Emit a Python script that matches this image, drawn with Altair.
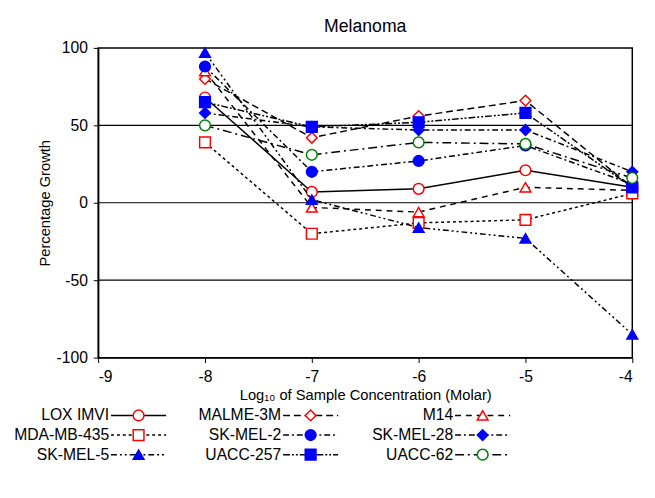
import altair as alt
import pandas as pd

conc = [-8, -7, -6, -5, -4]
names = ["LOX IMVI", "MALME-3M", "M14", "MDA-MB-435", "SK-MEL-2",
         "SK-MEL-28", "SK-MEL-5", "UACC-257", "UACC-62"]
growth = {
    "LOX IMVI": [68, 7, 9, 21, 10],
    "MALME-3M": [80, 42, 56, 66, 10],
    "M14": [85, -3, -6, 10, 8],
    "MDA-MB-435": [39, -20, -13, -11, 6],
    "SK-MEL-2": [88, 20, 27, 37, 12],
    "SK-MEL-28": [58, 49, 47, 47, 20],
    "SK-MEL-5": [97, 2, -16, -23, -85],
    "UACC-257": [65, 49, 52, 58, 10],
    "UACC-62": [50, 31, 39, 38, 16],
}
gridlines = [50, 0, -50]

shapes = ["circle", "diamond", "triangle-up", "square", "circle",
          "diamond", "triangle-up", "square", "circle"]
strokes = ["red", "red", "red", "red", "blue", "blue", "blue", "blue", "green"]
fills = ["white", "white", "white", "white", "blue", "blue", "blue", "blue", "white"]
dashes = [[1, 0], [7, 4], [6, 5], [3, 3], [6, 3, 2, 3], [6, 3, 2, 3],
          [6, 3, 2, 3, 2, 3], [7, 2, 2, 2, 2, 2], [9, 4, 2, 4]]

font = "Liberation Sans"
fix_minus = "replace(datum.label, '\u2212', '-')"

x = alt.X("conc:Q").scale(domain=[-9, -4]).axis(
    values=[-9, -8, -7, -6, -5, -4], title="Log₁₀ of Sample Concentration (Molar)",
    grid=False, tickSize=5, labelExpr=fix_minus, labelPadding=6)
y = alt.Y("growth:Q").scale(domain=[-100, 100]).axis(
    values=[-100, -50, 0, 50, 100], title="Percentage Growth", grid=False,
    tickSize=5, labelExpr=fix_minus, labelPadding=6)

grid = alt.Chart(pd.DataFrame({"growth": gridlines})).mark_rule(
    color="black", strokeWidth=1.2).encode(y=y)

lx = alt.Scale(domain=[-0.075, 3.03], nice=False, zero=False)
ly = alt.Scale(domain=[-0.25, 2.25], reverse=True, nice=False, zero=False)

layers = [grid]
leg_layers = []
for i, n in enumerate(names):
    d = pd.DataFrame({"conc": conc, "growth": growth[n]})
    dash = {} if i == 0 else {"strokeDash": dashes[i]}
    layers.append(alt.Chart(d).mark_line(color="black", strokeWidth=1.5, **dash)
                  .encode(x=x, y=y))
    layers.append(alt.Chart(d).mark_point(
        shape=shapes[i], stroke=strokes[i], fill=fills[i], filled=True,
        size=120, strokeWidth=1.5, opacity=1).encode(x=x, y=y))

    col, row = i % 3, i // 3
    ld = pd.DataFrame({"name": [n], "col": [col], "row": [row],
                       "x2": [col + 0.32], "xm": [col + 0.16]})
    lb = alt.Chart(ld)
    leg_layers.append(lb.mark_rule(color="black", strokeWidth=1.5, **dash).encode(
        x=alt.X("col:Q").scale(lx).axis(None), x2="x2:Q",
        y=alt.Y("row:Q").scale(ly).axis(None)))
    leg_layers.append(lb.mark_point(
        shape=shapes[i], stroke=strokes[i], fill=fills[i], filled=True,
        size=120, strokeWidth=1.5, opacity=1).encode(
        x=alt.X("xm:Q").scale(lx).axis(None), y=alt.Y("row:Q").scale(ly).axis(None)))
    leg_layers.append(lb.mark_text(align="right", dx=-2, fontSize=16, font=font).encode(
        x=alt.X("col:Q").scale(lx).axis(None), y=alt.Y("row:Q").scale(ly).axis(None),
        text="name:N"))

main = alt.layer(*layers).properties(
    width=545, height=316,
    title=alt.Title("Melanoma", fontSize=18, font=font, fontWeight="normal", offset=4))
legend = alt.layer(*leg_layers).properties(
    width=545, height=50, view=alt.ViewBackground(stroke="transparent"))

chart = alt.vconcat(main, legend, spacing=2).configure_axis(
    labelFont=font, titleFont=font, labelFontSize=16, titleFontSize=15,
    titleFontWeight="normal", labelColor="black", titleColor="black",
    domainColor="black", tickColor="black", domainWidth=1.5,
).configure_view(stroke="black", strokeWidth=1.5)

chart.save("out.html", embed_options={"renderer": "svg", "actions": False})
